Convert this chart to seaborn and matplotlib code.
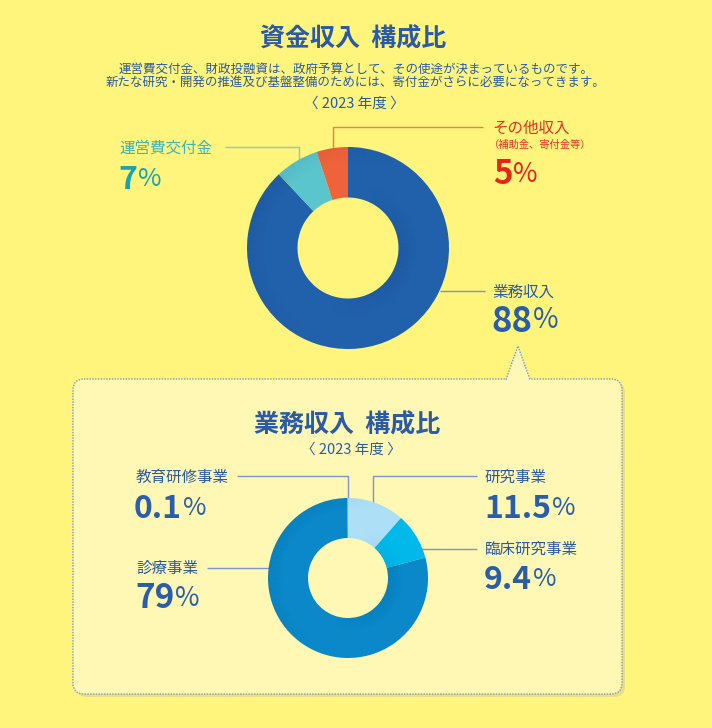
import numpy as np
import matplotlib.pyplot as plt
from matplotlib.patches import FancyBboxPatch, Polygon, Wedge
import seaborn as sns

# data
fund_labels = ['業務収入', '運営費交付金', 'その他収入']
fund_values = [88, 7, 5]
fund_colors = ['#2160ab', '#5bc5cd', '#ee633a']

biz_labels = ['研究事業', '臨床研究事業', '診療事業', '教育研修事業']
biz_values = [11.5, 9.4, 79, 0.1]
biz_colors = ['#ade0f6', '#00b9ea', '#0a88c9', '#6fc3e8']

title_top = '資金収入  構成比'
title_bottom = '業務収入  構成比'
note_lines = ['運営費交付金、財政投融資は、政府予算として、その使途が決まっているものです。',
              '新たな研究・開発の推進及び基盤整備のためには、寄付金がさらに必要になってきます。']
year_label = '〈 2023 年度 〉'
other_note = '（補助金、寄付金等）'

sns.set_theme(style='white')
plt.rcParams['font.family'] = ['Noto Sans CJK JP', 'DejaVu Sans']

W, H = 712, 728
BG = '#fff57c'
BOX = '#fff8b4'
NAVY = '#2a5aa8'
LINE = '#7f95c4'

fig = plt.figure(figsize=(W / 100, H / 100), dpi=100, facecolor=BG)
ax = fig.add_axes([0, 0, 1, 1])
ax.set_xlim(0, W)
ax.set_ylim(H, 0)
ax.axis('off')
ax.set_facecolor(BG)

# callout box with pointer
shadow = FancyBboxPatch((76, 382), 549, 315, boxstyle='round,pad=0,rounding_size=11',
                        fc='#c9c39a', ec='none', alpha=0.45, zorder=1)
ax.add_patch(shadow)
box = FancyBboxPatch((73, 379), 549, 315, boxstyle='round,pad=0,rounding_size=11',
                     fc=BOX, ec=LINE, lw=1.0, ls=(0, (1, 1)), zorder=2)
ax.add_patch(box)
ax.add_patch(Polygon([(506, 379.6), (518, 346), (530, 379.6)], closed=False,
                     fc=BOX, ec=LINE, lw=1.0, ls=(0, (1, 1)), zorder=3))
ax.add_patch(Polygon([(507, 380.5), (518, 348), (529, 380.5)], closed=True,
                     fc=BOX, ec='none', zorder=2.5))


def donut(cx, cy, R, values, colors):
    dax = fig.add_axes([(cx - R) / W, (H - cy - R) / H, 2 * R / W, 2 * R / H])
    dax.pie(values, colors=colors, startangle=90, counterclock=False,
            wedgeprops=dict(width=0.5, edgecolor='none', linewidth=0))
    # soft bevel shading
    for a in range(0, 360, 4):
        t = np.deg2rad(a)
        k_in = max(0.0, np.cos(t - np.deg2rad(-20)))
        k_out = max(0.0, np.cos(t - np.deg2rad(150)))
        for j in range(8):
            if k_in > 0:
                dax.add_patch(Wedge((0, 0), 0.5 + 0.022 * (j + 1), a, a + 4.2,
                                    width=0.022, fc='#001a40', ec='none',
                                    alpha=0.07 * k_in * (8 - j) / 8))
            if k_out > 0:
                dax.add_patch(Wedge((0, 0), 1 - 0.02 * j, a, a + 4.2,
                                    width=0.02, fc='#001a40', ec='none',
                                    alpha=0.055 * k_out * (8 - j) / 8))
    dax.set_xlim(-1, 1)
    dax.set_ylim(-1, 1)
    dax.set_aspect('equal')
    dax.axis('off')
    return dax


donut(348, 248, 101, fund_values, fund_colors)
donut(348, 578, 80, biz_values, biz_colors)


def pct(x, y, v, color, size=24):
    t = ax.text(x, y, f'{v:g}', color=color, fontsize=size, fontweight='bold',
                ha='left', va='center', zorder=5)
    ax.annotate('%', xy=(1, 0.12), xycoords=t, xytext=(0.5, 0), textcoords='offset points',
                color=color, fontsize=size * 0.8, ha='left', va='bottom', zorder=5)


def leader(xs, ys, color):
    ax.plot(xs, ys, color=color, lw=1.0, zorder=6, solid_capstyle='butt')


# top section text
ax.text(353, 39, title_top, color=NAVY, fontsize=18, fontweight='bold', ha='center', va='center')
ax.text(356, 69, note_lines[0], color=NAVY, fontsize=9, ha='center', va='center')
ax.text(356, 83, note_lines[1], color=NAVY, fontsize=9, ha='center', va='center')
ax.text(354, 104, year_label, color=NAVY, fontsize=10.5, ha='center', va='center')

ax.text(119, 148, fund_labels[1], color='#3fb4bb', fontsize=11.2, ha='left', va='center')
pct(118, 180, fund_values[1], '#1aa4ab', 23)
leader([225, 299, 299], [147, 147, 173], '#86cbc7')

ax.text(492, 128, fund_labels[2], color='#e5321f', fontsize=11.2, ha='left', va='center')
ax.text(489, 145, other_note, color='#e5321f', fontsize=7.4, ha='left', va='center')
pct(493, 175, fund_values[2], '#e5261a', 24)
leader([483, 333, 333], [127, 127, 163], '#ef7c58')

ax.text(492, 292, fund_labels[0], color=NAVY, fontsize=11.2, ha='left', va='center')
pct(491, 322, fund_values[0], '#2a5eaa', 25)
leader([440, 485], [291, 291], LINE)

# bottom section text
ax.text(347, 425, title_bottom, color=NAVY, fontsize=18, fontweight='bold', ha='center', va='center')
ax.text(351, 450, year_label, color=NAVY, fontsize=10.5, ha='center', va='center')

ax.text(136, 477, biz_labels[3], color=NAVY, fontsize=11.2, ha='left', va='center')
pct(134, 509, biz_values[3], '#2a5eaa', 23)
leader([237, 348, 348], [476, 476, 537], LINE)

ax.text(136, 568, biz_labels[2], color=NAVY, fontsize=11.2, ha='left', va='center')
pct(135, 599, biz_values[2], '#2a5eaa', 24)
leader([207, 290], [568, 568], LINE)

ax.text(485, 477, biz_labels[0], color=NAVY, fontsize=11.2, ha='left', va='center')
pct(484, 509, biz_values[0], '#2a5eaa', 23)
leader([477, 373, 373], [476, 476, 515], LINE)

ax.text(485, 549, biz_labels[1], color=NAVY, fontsize=11.2, ha='left', va='center')
pct(484, 580, biz_values[1], '#2a5eaa', 23)
leader([477, 409], [549, 549], LINE)

fig.savefig('out.png', dpi=100, facecolor=BG)
